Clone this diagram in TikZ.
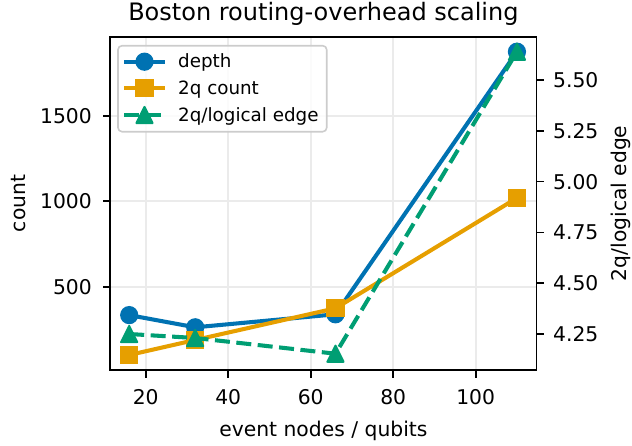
\documentclass[tikz,border=0pt]{standalone}
\usepackage{fontspec}
\setmainfont{DejaVu Sans}
\definecolor{cblue}{HTML}{0072B2}
\definecolor{corange}{HTML}{E69F00}
\definecolor{cgreen}{HTML}{009E73}
\definecolor{gridgray}{HTML}{EBEBEB}
\definecolor{legborder}{HTML}{CCCCCC}
\tikzset{
  series/.style={line width=4.06, line join=round},
  dashedseries/.style={line width=4.06, line join=round, dash pattern=on 15 off 6.5},
  gridline/.style={gridgray, line width=1.6},
  frame/.style={black, line width=1.8},
  tickmark/.style={black, line width=1.6},
  ticklabel/.style={inner sep=0, font=\fontsize{20.3}{24}\selectfont},
  axlabel/.style={inner sep=0, font=\fontsize{20.3}{24}\selectfont},
  legtext/.style={inner sep=0, anchor=base west, font=\fontsize{18.3}{22}\selectfont},
  mkcirc/.pic={\filldraw[line width=2] (0,0) circle (8.1);},
  mksq/.pic={\filldraw[line width=2, line join=miter] (-8.1,-8.1) rectangle (8.1,8.1);},
  mktri/.pic={\filldraw[line width=2, line join=round] (0,-8.1) -- (-8.1,8.1) -- (8.1,8.1) -- cycle;},
}
\begin{document}
\begin{tikzpicture}[x=1pt,y=-1pt]
\useasboundingbox (0,0) rectangle (632,445);

% axes corners
\coordinate (ll) at (110.3,370);
\coordinate (ur) at (536.5,36.7);

% grid (x ticks and left y ticks)
\foreach \gx in {145.7,228.2,310.7,393.2,475.7}
  \draw[gridline] (\gx,36.7) -- (\gx,370);
\foreach \gy in {115.7,201.2,286.7}
  \draw[gridline] (110.3,\gy) -- (536.5,\gy);

% data points: x = 16, 32, 66, 110
\coordinate (d1) at (129.2,315.1);
\coordinate (d2) at (195.2,327.3);
\coordinate (d3) at (335.45,314.3);
\coordinate (d4) at (516.95,51.7);
\coordinate (q1) at (129.2,355);
\coordinate (q2) at (195.2,340);
\coordinate (q3) at (335.45,308.3);
\coordinate (q4) at (516.95,198);
\coordinate (r1) at (129.2,334);
\coordinate (r2) at (195.2,338);
\coordinate (r3) at (335.45,353.7);
\coordinate (r4) at (516.95,51.7);

% depth
\draw[series, cblue] (d1) -- (d2) -- (d3) -- (d4);
\foreach \p in {d1,d2,d3,d4} \pic[cblue] at (\p) {mkcirc};
% 2q count
\draw[series, corange] (q1) -- (q2) -- (q3) -- (q4);
\foreach \p in {q1,q2,q3,q4} \pic[corange] at (\p) {mksq};
% 2q per logical edge (right axis)
\draw[dashedseries, cgreen] (r1) -- (r2) -- (r3) -- (r4);
\foreach \p in {r1,r2,r3,r4} \pic[cgreen] at (\p) {mktri};

% frame
\draw[frame] (ll) rectangle (ur);

% x ticks
\foreach \gx/\lab in {145.7/20,228.2/40,310.7/60,393.2/80,475.7/100}{
  \draw[tickmark] (\gx,370) -- (\gx,377.5);
  \node[ticklabel, anchor=base] at (\gx,404) {\lab};
}
% left ticks
\foreach \gy/\lab in {115.7/1500,201.2/1000,286.7/500}{
  \draw[tickmark] (110.3,\gy) -- (102.8,\gy);
  \node[ticklabel, anchor=base east] at (92,\gy+7.4) {\lab};
}
% right ticks
\foreach \gy/\lab in {80/5.50,130.8/5.25,181.6/5.00,232.4/4.75,283.2/4.50,334/4.25}{
  \draw[tickmark] (536.5,\gy) -- (544,\gy);
  \node[ticklabel, anchor=base west] at (553,\gy+7.4) {\lab};
}

% labels
\node[inner sep=0, anchor=base, font=\fontsize{24}{28}\selectfont] (title) at (323.4,20) {Boston routing-overhead scaling};
\node[axlabel, anchor=base] (xlab) at (323.4,436.7) {event nodes / qubits};
\node[axlabel, anchor=base, rotate=90] (ylab) at (25,203.4) {count};
\node[axlabel, anchor=base, rotate=90] (y2lab) at (626,203.4) {2q/logical edge};

% legend
\filldraw[draw=legborder, fill=white, fill opacity=0.8, line width=1.6, rounded corners=4] (118,45.7) rectangle (326.7,131.7);
\coordinate (la1) at (124,61.7);  \coordinate (lb1) at (165,61.7);  \coordinate (lm1) at (144.5,61.7);
\coordinate (la2) at (124,88.3);  \coordinate (lb2) at (165,88.3);  \coordinate (lm2) at (144.5,88.3);
\coordinate (la3) at (124,115);   \coordinate (lb3) at (165,115);   \coordinate (lm3) at (144.5,115);
\draw[series, cblue] (la1) -- (lb1);
\pic[cblue] at (lm1) {mkcirc};
\draw[series, corange] (la2) -- (lb2);
\pic[corange] at (lm2) {mksq};
\draw[dashedseries, cgreen] (la3) -- (lb3);
\pic[cgreen] at (lm3) {mktri};
\node[legtext] (t1) at (178,67.7) {depth};
\node[legtext] (t2) at (178,94.3) {2q count};
\node[legtext] (t3) at (178,121) {2q/logical edge};
\end{tikzpicture}
\end{document}
